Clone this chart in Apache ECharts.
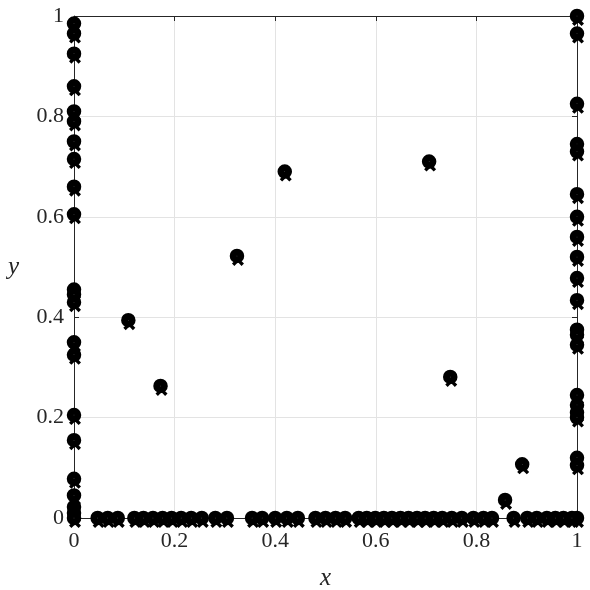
<!DOCTYPE html>
<html>
<head>
<meta charset="utf-8">
<script src="https://cdn.jsdelivr.net/npm/echarts@6/dist/echarts.min.js"></script>
<style>html,body{margin:0;padding:0;background:#fff;}#c{width:590px;height:590px;}</style>
</head>
<body>
<div id="c"></div>
<script>
// Points on the left edge (x = 0): y values
var leftEdgeY = [0.985, 0.965, 0.925, 0.86, 0.81, 0.79, 0.75, 0.715, 0.66, 0.605, 0.455, 0.445, 0.43, 0.35, 0.325, 0.205, 0.155, 0.078, 0.045, 0.022, 0.01, 0.0];
// Points on the right edge (x = 1): y values
var rightEdgeY = [1.0, 0.965, 0.825, 0.745, 0.73, 0.645, 0.6, 0.56, 0.52, 0.478, 0.434, 0.375, 0.365, 0.345, 0.245, 0.225, 0.21, 0.2, 0.12, 0.105, 0.0];
// Points on the bottom edge (y = 0): x values
var bottomEdgeX = [0.047, 0.067, 0.087, 0.12, 0.138, 0.157, 0.176, 0.194, 0.213, 0.233, 0.254, 0.281, 0.304, 0.354, 0.374, 0.40, 0.423, 0.445, 0.48, 0.50, 0.52, 0.539, 0.566, 0.582, 0.599, 0.616, 0.632, 0.649, 0.665, 0.682, 0.698, 0.715, 0.732, 0.751, 0.771, 0.794, 0.814, 0.831, 0.874, 0.901, 0.92, 0.94, 0.957, 0.973, 0.99];
// Interior points
var innerX = [0.108, 0.172, 0.324, 0.419, 0.706, 0.748, 0.891, 0.857];
var innerY = [0.394, 0.263, 0.522, 0.690, 0.710, 0.281, 0.107, 0.036];
// Tick labels
var tickValues = [0, 0.2, 0.4, 0.6, 0.8, 1];
var tickLabels = ['0', '0.2', '0.4', '0.6', '0.8', '1'];

var pts = [];
leftEdgeY.forEach(function (y) { pts.push([0, y]); });
rightEdgeY.forEach(function (y) { pts.push([1, y]); });
bottomEdgeX.forEach(function (x) { pts.push([x, 0]); });
innerX.forEach(function (x, i) { pts.push([x, innerY[i]]); });

function fmt(v) {
  var i = tickValues.indexOf(Math.round(v * 10) / 10);
  return i >= 0 ? tickLabels[i] : '';
}

var font = '"Liberation Serif", "DejaVu Serif", serif';
var axisCol = '#262626';
var chart = echarts.init(document.getElementById('c'), null, {renderer: 'canvas'});
chart.setOption({
  animation: false,
  backgroundColor: '#fff',
  grid: {left: 74, right: 13, top: 16, bottom: 72, containLabel: false, outerBoundsMode: 'none'},
  xAxis: [{
    type: 'value', min: 0, max: 1, interval: 0.2,
    name: 'x', nameLocation: 'middle', nameGap: 48,
    nameTextStyle: {fontFamily: font, fontStyle: 'italic', fontSize: 25, color: axisCol},
    axisLine: {show: true, onZero: false, lineStyle: {color: axisCol, width: 1}},
    axisTick: {show: true, inside: true, length: 5, lineStyle: {color: axisCol}},
    axisLabel: {formatter: fmt, fontFamily: font, fontSize: 22, color: axisCol, margin: 12},
    splitLine: {show: true, lineStyle: {color: '#e3e3e3', width: 1}}
  }, {
    type: 'value', min: 0, max: 1, interval: 0.2, position: 'top',
    axisLine: {show: true, onZero: false, lineStyle: {color: axisCol, width: 1}},
    axisTick: {show: true, inside: true, length: 5, lineStyle: {color: axisCol}},
    axisLabel: {show: false}, splitLine: {show: false}
  }],
  yAxis: [{
    type: 'value', min: 0, max: 1, interval: 0.2,
    name: 'y', nameLocation: 'middle', nameGap: 55, nameRotate: 0,
    nameTextStyle: {fontFamily: font, fontStyle: 'italic', fontSize: 25, color: axisCol},
    axisLine: {show: true, onZero: false, lineStyle: {color: axisCol, width: 1}},
    axisTick: {show: true, inside: true, length: 5, lineStyle: {color: axisCol}},
    axisLabel: {formatter: fmt, fontFamily: font, fontSize: 22, color: axisCol, margin: 10},
    splitLine: {show: true, lineStyle: {color: '#e3e3e3', width: 1}}
  }, {
    type: 'value', min: 0, max: 1, interval: 0.2, position: 'right',
    axisLine: {show: true, onZero: false, lineStyle: {color: axisCol, width: 1}},
    axisTick: {show: true, inside: true, length: 5, lineStyle: {color: axisCol}},
    axisLabel: {show: false}, splitLine: {show: false}
  }],
  series: [{
    type: 'scatter', name: 'x-marks', data: pts, clip: false,
    symbol: 'path://M0,2L2,0L5,3L8,0L10,2L7,5L10,8L8,10L5,7L2,10L0,8L3,5Z',
    symbolSize: 12, symbolOffset: [1, 4],
    itemStyle: {color: '#000', opacity: 1}, z: 2
  }, {
    type: 'scatter', name: 'circles', data: pts, clip: false,
    symbol: 'circle', symbolSize: 7.5,
    itemStyle: {color: '#fff', borderColor: '#000', borderWidth: 7, opacity: 1}, z: 3
  }]
});
</script>
</body>
</html>
